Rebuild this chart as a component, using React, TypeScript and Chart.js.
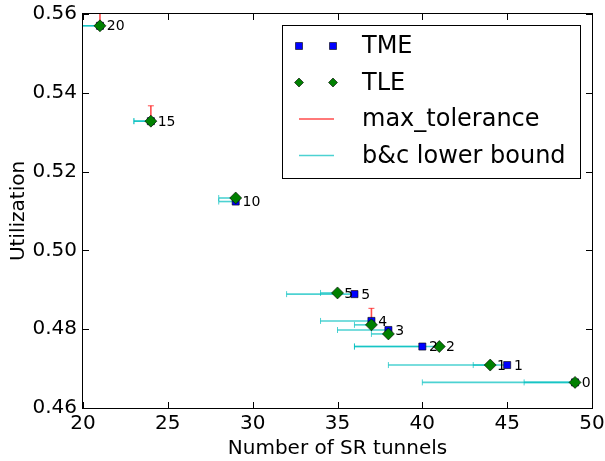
import React, { useEffect, useRef } from "react";
import { Chart, registerables } from "chart.js";

Chart.register(...registerables);

// alpha values labelling each point
const pointLabels = ["0", "1", "2", "3", "4", "5", "10", "15", "20"];
// TME series
const tmeX = [49, 45, 40, 38, 37, 36, 29, 24, 21];
const tmeY = [0.4665, 0.4709, 0.4756, 0.4798, 0.4821, 0.4889, 0.5124, 0.5328, 0.557];
// TLE series
const tleX = [49, 44, 41, 38, 37, 35, 29, 24, 21];
const tleY = [0.4665, 0.4709, 0.4756, 0.4788, 0.4811, 0.4892, 0.5133, 0.5328, 0.557];
// max_tolerance (upper utilization for TME)
const tmeMaxTol = [0.4665, 0.4709, 0.4756, 0.4803, 0.4853, 0.4897, 0.5124, 0.5367, 0.5625];
// b&c lower bound (number of tunnels)
const tmeLowerBound = [40, 38, 36, 35, 34, 32, 28, 23, 19];
const tleLowerBound = [46, 43, 36, 37, 36, 34, 28, 23, 19];

const xTicks = [20, 25, 30, 35, 40, 45, 50];
const yTicks = [0.46, 0.48, 0.5, 0.52, 0.54, 0.56];

const FONT = "'DejaVu Sans', sans-serif";
const BLUE = "#0000ff";
const GREEN = "#008000";
const RED = "rgba(255,0,0,0.7)";
const CYAN = "rgba(0,191,191,0.7)";

function drawSquare(ctx: CanvasRenderingContext2D, x: number, y: number, half: number) {
  ctx.beginPath();
  ctx.rect(x - half, y - half, half * 2, half * 2);
  ctx.fillStyle = BLUE;
  ctx.fill();
  ctx.lineWidth = 0.6;
  ctx.strokeStyle = "#000";
  ctx.stroke();
}
function drawDiamond(ctx: CanvasRenderingContext2D, x: number, y: number, r: number) {
  ctx.beginPath();
  ctx.moveTo(x, y - r);
  ctx.lineTo(x + r, y);
  ctx.lineTo(x, y + r);
  ctx.lineTo(x - r, y);
  ctx.closePath();
  ctx.fillStyle = GREEN;
  ctx.fill();
  ctx.lineWidth = 0.6;
  ctx.strokeStyle = "#000";
  ctx.stroke();
}

const overlay = {
  id: "overlay",
  beforeDatasetsDraw(chart: any) {
    const { ctx, chartArea: a, scales } = chart;
    const x = scales.x, y = scales.y;
    ctx.save();
    ctx.beginPath();
    ctx.rect(a.left, a.top, a.right - a.left, a.bottom - a.top);
    ctx.clip();
    // b&c lower bound (horizontal)
    const hbar = (xs: number[], ys: number[], lows: number[]) => {
      ctx.strokeStyle = CYAN;
      for (let i = 0; i < xs.length; i++) {
        const px = x.getPixelForValue(xs[i]);
        const pl = x.getPixelForValue(lows[i]);
        const py = y.getPixelForValue(ys[i]);
        ctx.lineWidth = 1.6;
        ctx.beginPath();
        ctx.moveTo(pl, py);
        ctx.lineTo(px, py);
        ctx.stroke();
        ctx.lineWidth = 1;
        ctx.beginPath();
        ctx.moveTo(pl, py - 3);
        ctx.lineTo(pl, py + 3);
        ctx.moveTo(px, py - 3);
        ctx.lineTo(px, py + 3);
        ctx.stroke();
      }
    };
    hbar(tmeX, tmeY, tmeLowerBound);
    hbar(tleX, tleY, tleLowerBound);
    // max_tolerance (vertical)
    ctx.strokeStyle = RED;
    for (let i = 0; i < tmeX.length; i++) {
      const px = x.getPixelForValue(tmeX[i]);
      const py = y.getPixelForValue(tmeY[i]);
      const pu = y.getPixelForValue(tmeMaxTol[i]);
      if (Math.abs(py - pu) < 0.5) continue;
      ctx.lineWidth = 1.6;
      ctx.beginPath();
      ctx.moveTo(px, py);
      ctx.lineTo(px, pu);
      ctx.stroke();
      ctx.lineWidth = 1;
      ctx.beginPath();
      ctx.moveTo(px - 3, pu);
      ctx.lineTo(px + 3, pu);
      ctx.stroke();
    }
    ctx.restore();
  },
  afterDatasetsDraw(chart: any) {
    const { ctx, chartArea: a, scales } = chart;
    const x = scales.x, y = scales.y;
    ctx.save();
    // point labels (TLE only where it differs from TME)
    ctx.fillStyle = "#000";
    ctx.font = `14px ${FONT}`;
    ctx.textAlign = "left";
    ctx.textBaseline = "middle";
    for (let i = 0; i < tmeX.length; i++) {
      ctx.fillText(pointLabels[i], x.getPixelForValue(tmeX[i] + 0.4), y.getPixelForValue(tmeY[i]) + 1);
      if (tleX[i] !== tmeX[i]) {
        ctx.fillText(pointLabels[i], x.getPixelForValue(tleX[i] + 0.4), y.getPixelForValue(tleY[i]) + 1);
      }
    }
    // frame
    ctx.strokeStyle = "#000";
    ctx.lineWidth = 1;
    ctx.strokeRect(Math.round(a.left) - 0.5, Math.round(a.top) - 0.5, Math.round(a.right - a.left) + 1, Math.round(a.bottom - a.top) + 1);
    // inward ticks on all sides
    ctx.beginPath();
    for (const v of xTicks) {
      const px = Math.round(x.getPixelForValue(v)) + 0.5;
      ctx.moveTo(px, a.bottom);
      ctx.lineTo(px, a.bottom - 6);
      ctx.moveTo(px, a.top);
      ctx.lineTo(px, a.top + 6);
    }
    for (const v of yTicks) {
      const py = Math.round(y.getPixelForValue(v)) + 0.5;
      ctx.moveTo(a.left, py);
      ctx.lineTo(a.left + 6, py);
      ctx.moveTo(a.right, py);
      ctx.lineTo(a.right - 6, py);
    }
    ctx.stroke();
    // legend
    const lx = 282.5, ly = 25.5, lw = 298, lh = 153;
    ctx.fillStyle = "#fff";
    ctx.fillRect(lx, ly, lw, lh);
    ctx.strokeStyle = "#000";
    ctx.lineWidth = 1;
    ctx.strokeRect(lx, ly, lw, lh);
    const rows = [46, 82.5, 119, 155.5];
    const m1 = 299, m2 = 333, tx = 362;
    drawSquare(ctx, m1, rows[0], 3.5);
    drawSquare(ctx, m2, rows[0], 3.5);
    drawDiamond(ctx, m1, rows[1], 4.5);
    drawDiamond(ctx, m2, rows[1], 4.5);
    ctx.lineWidth = 1.6;
    ctx.strokeStyle = RED;
    ctx.beginPath();
    ctx.moveTo(m1, rows[2]);
    ctx.lineTo(m2 + 1, rows[2]);
    ctx.stroke();
    ctx.strokeStyle = CYAN;
    ctx.beginPath();
    ctx.moveTo(m1, rows[3]);
    ctx.lineTo(m2 + 1, rows[3]);
    ctx.stroke();
    ctx.fillStyle = "#000";
    ctx.font = `24px ${FONT}`;
    ctx.textAlign = "left";
    ctx.textBaseline = "middle";
    const names = ["TME", "TLE", "max_tolerance", "b&c lower bound"];
    names.forEach((n, i) => ctx.fillText(n, tx, rows[i] + 1));
    ctx.restore();
  },
};

export default function App() {
  const ref = useRef<HTMLCanvasElement>(null);
  useEffect(() => {
    document.body.style.margin = "0";
    const toPts = (xs: number[], ys: number[]) => xs.map((v, i) => ({ x: v, y: ys[i] }));
    const chart = new Chart(ref.current!, {
      type: "scatter",
      data: {
        datasets: [
          {
            label: "TLE",
            data: toPts(tleX, tleY),
            pointStyle: "rectRot",
            pointRadius: 6,
            pointBackgroundColor: GREEN,
            pointBorderColor: "#000",
            pointBorderWidth: 0.6,
            showLine: false,
          },
          {
            label: "TME",
            data: toPts(tmeX, tmeY),
            pointStyle: "rect",
            pointRadius: 5,
            pointBackgroundColor: BLUE,
            pointBorderColor: "#000",
            pointBorderWidth: 0.6,
            showLine: false,
          },
        ],
      },
      options: {
        responsive: false,
        animation: false,
        layout: { autoPadding: false, padding: { left: 0, right: 13, top: 14, bottom: 0 } },
        plugins: { legend: { display: false }, tooltip: { enabled: false } },
        scales: {
          x: {
            type: "linear",
            min: 20,
            max: 50,
            afterFit: (s: any) => { s.height = 53; },
            afterBuildTicks: (s: any) => { s.ticks = xTicks.map((v) => ({ value: v })); },
            grid: { display: false, drawTicks: true, tickLength: 4 },
            border: { display: false },
            ticks: { font: { family: FONT, size: 20 }, color: "#000", padding: 0, maxRotation: 0 },
            title: { display: true, text: "Number of SR tunnels", font: { family: FONT, size: 20 }, color: "#000", padding: { top: 0, bottom: 0 } },
          },
          y: {
            type: "linear",
            min: 0.46,
            max: 0.56,
            afterFit: (s: any) => { s.width = 83; },
            afterBuildTicks: (s: any) => { s.ticks = yTicks.map((v) => ({ value: v })); },
            grid: { display: false, drawTicks: true, tickLength: 6 },
            border: { display: false },
            ticks: { font: { family: FONT, size: 20 }, color: "#000", padding: 0, callback: (v: any) => Number(v).toFixed(2) },
            title: { display: true, text: "Utilization", font: { family: FONT, size: 20 }, color: "#000", padding: { top: 7, bottom: 0 } },
          },
        },
      },
      plugins: [overlay],
    });
    return () => chart.destroy();
  }, []);
  return (
    <div style={{ position: "absolute", left: 0, top: 0, width: 605, height: 461, background: "#fff" }}>
      <canvas ref={ref} width={605} height={461} style={{ display: "block" }} />
    </div>
  );
}
